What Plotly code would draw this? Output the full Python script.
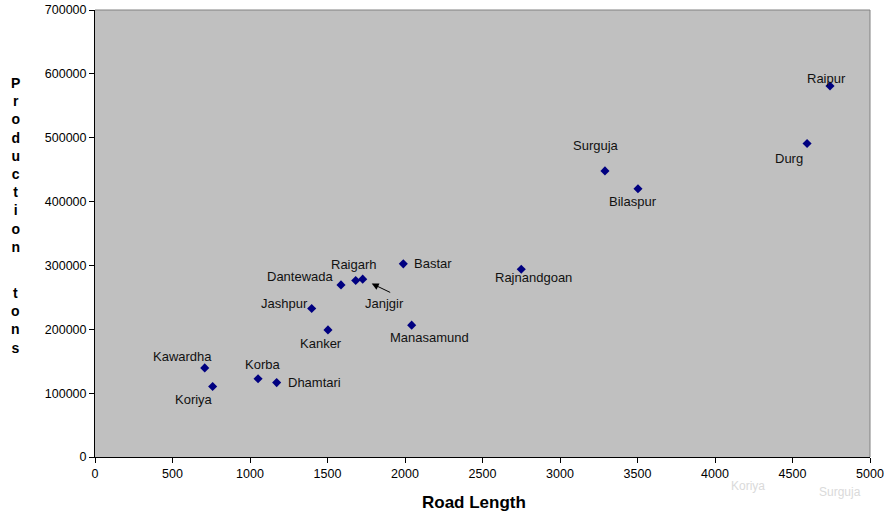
import plotly.graph_objects as go

districts = ["Raipur", "Durg", "Surguja", "Bilaspur", "Rajnandgoan", "Bastar",
             "Raigarh", "Janjgir", "Dantewada", "Jashpur", "Kanker", "Manasamund",
             "Kawardha", "Koriya", "Korba", "Dhamtari"]
road_length = [4742, 4594, 3290, 3503, 2750, 1989,
               1682, 1727, 1587, 1398, 1503, 2043,
               708, 759, 1052, 1172]
production = [581000, 491000, 448000, 420000, 294000, 302500,
              276500, 278500, 269500, 232500, 199000, 206500,
              139500, 110500, 122500, 116500]

x_ticks = list(range(0, 5001, 500))
y_ticks = list(range(0, 700001, 100000))

# label offsets in pixels (xshift, yshift)
label_offsets = {
    "Raipur": (-4, 7), "Durg": (-18, -15), "Surguja": (-9, 25), "Bilaspur": (-5, -13),
    "Rajnandgoan": (12, -8), "Bastar": (30, 0), "Raigarh": (-2, 16),
    "Dantewada": (-40, 8), "Jashpur": (-27, 5), "Kanker": (-7, -14),
    "Manasamund": (18, -12), "Kawardha": (-22, 11), "Koriya": (-19, -13),
    "Korba": (4, 14), "Dhamtari": (38, 0), "Janjgir": (22, -24),
}

FONT = "Liberation Sans, Arial, sans-serif"
LABEL_SIZE = 13

fig = go.Figure()
fig.add_trace(go.Scatter(
    x=road_length, y=production, mode="markers",
    marker=dict(symbol="diamond", size=7, color="#000080"),
    hoverinfo="text", text=districts, showlegend=False,
))

annotations = []
for name, xv, yv in zip(districts, road_length, production):
    dx, dy = label_offsets[name]
    annotations.append(dict(
        x=xv, y=yv, xref="x", yref="y", text=name, showarrow=False,
        xshift=dx, yshift=dy, font=dict(family=FONT, size=LABEL_SIZE, color="#111")))
    if name == "Janjgir":
        annotations.append(dict(
            x=xv, y=yv, xref="x", yref="y", text="", showarrow=True,
            ax=29, ay=14, arrowhead=2, arrowsize=1.4, arrowwidth=1, arrowcolor="#000",
            standoff=10))

W, H = 884, 516
ml, mr, mt, mb = 95, 14, 10, 59
pw, ph = W - ml - mr, H - mt - mb

def px_to_paper(px, py):
    return (px - ml) / pw, (H - mb - py) / ph

for word, ytop in (("Production", 73), ("tons", 283)):
    px, py = px_to_paper(15, ytop)
    annotations.append(dict(
        x=px, y=py, xref="paper", yref="paper", xanchor="center", yanchor="top",
        text="<b>" + "<br>".join(word) + "</b>", showarrow=False,
        font=dict(family=FONT, size=14, color="#000")))

# x-axis title
px, py = px_to_paper(474, 502)
annotations.append(dict(
    x=px, y=py, xref="paper", yref="paper", xanchor="center", yanchor="middle",
    text="<b>Road Length</b>", showarrow=False,
    font=dict(family=FONT, size=17, color="#000")))

# faint watermark texts (background map remnants), kept clear of the tick labels
for txt, wx, wy in (("Koriya", 748, 486), ("Surguja", 840, 492)):
    px, py = px_to_paper(wx, wy)
    annotations.append(dict(
        x=px, y=py, xref="paper", yref="paper", xanchor="center", yanchor="middle",
        text=txt, showarrow=False,
        font=dict(family=FONT, size=12, color="#dadada")))

fig.update_layout(
    width=W, height=H,
    margin=dict(l=ml, r=mr, t=mt, b=mb, autoexpand=False),
    paper_bgcolor="white", plot_bgcolor="#C0C0C0",
    font=dict(family=FONT, size=12, color="#000"),
    annotations=annotations,
    xaxis=dict(
        range=[0, 5000], tickvals=x_ticks, tickformat="d", automargin=False,
        showgrid=False, zeroline=False, showline=True, linecolor="#000", linewidth=1,
        ticks="outside", ticklen=5, tickcolor="#000",
        tickfont=dict(family=FONT, size=12.5, color="#000"),
    ),
    yaxis=dict(
        range=[0, 700000], tickvals=y_ticks, tickformat="d", automargin=False,
        showgrid=False, zeroline=False, showline=True, linecolor="#000", linewidth=1,
        ticks="outside", ticklen=5, tickcolor="#000",
        tickfont=dict(family=FONT, size=12.5, color="#000"),
    ),
    shapes=[
        dict(type="line", xref="paper", yref="paper", x0=0, x1=1, y0=1, y1=1,
             line=dict(color="#808080", width=1)),
        dict(type="line", xref="paper", yref="paper", x0=1, x1=1, y0=0, y1=1,
             line=dict(color="#808080", width=1)),
    ],
)

fig.write_html("out.html")
